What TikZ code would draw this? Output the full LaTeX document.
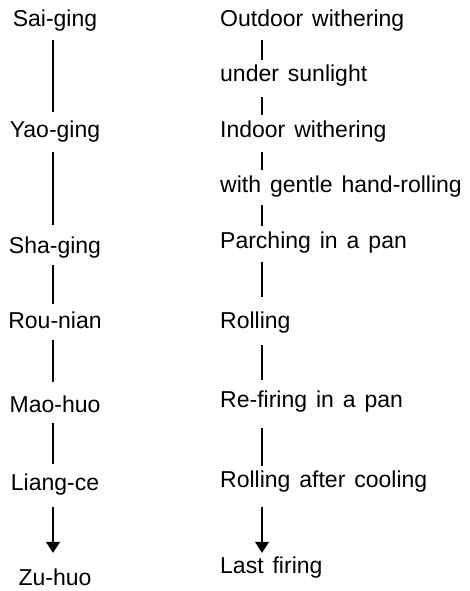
\documentclass[tikz,border=0pt]{standalone}
\usepackage{fontspec}
\setmainfont[WordSpace=1.4]{Liberation Sans}
\usetikzlibrary{arrows.meta}
\begin{document}
\begin{tikzpicture}[x=1pt,y=-1pt,
  lbl/.style={inner sep=0pt,text height=16pt,text depth=5pt,
    font=\fontsize{23}{28}\selectfont},
  lcol/.style={lbl,anchor=base},
  rcol/.style={lbl,anchor=base west},
  link/.style={line width=1.2pt},
  flow/.style={link,-{Triangle[width=14pt,length=11pt]}}]
\useasboundingbox (0,0) rectangle (470,591);
% x positions of the two columns of connectors
\coordinate (lx) at (53,0);
\coordinate (rx) at (262,0);

% Chinese step names
\node[lcol] (s1) at (55,27)  {Sai-ging};
\node[lcol] (s2) at (55,137) {Yao-ging};
\node[lcol] (s3) at (55,253) {Sha-ging};
\node[lcol] (s4) at (55,328) {Rou-nian};
\node[lcol] (s5) at (55,412) {Mao-huo};
\node[lcol] (s6) at (55,490) {Liang-ce};
\node[lcol] (s7) at (55,585) {Zu-huo};

% English descriptions
\node[rcol] (e1) at (220,27)  {Outdoor withering};
\node[rcol] (e2) at (220,82)  {under sunlight};
\node[rcol] (e3) at (220,137) {Indoor withering};
\node[rcol] (e4) at (220,192) {with gentle hand-rolling};
\node[rcol] (e5) at (220,248) {Parching in a pan};
\node[rcol] (e6) at (220,328) {Rolling};
\node[rcol] (e7) at (220,407) {Re-firing in a pan};
\node[rcol] (e8) at (220,487) {Rolling after cooling};
\node[rcol] (e9) at (220,573) {Last firing};

% left column connectors
\draw[link,shorten <=8pt,shorten >=9pt]   (s1.south -| lx) -- (s2.north -| lx);
\draw[link,shorten <=10pt,shorten >=12pt] (s2.south -| lx) -- (s3.north -| lx);
\draw[link,shorten <=7pt,shorten >=8pt]   (s3.south -| lx) -- (s4.north -| lx);
\draw[link,shorten <=7pt,shorten >=14pt]  (s4.south -| lx) -- (s5.north -| lx);
\draw[link,shorten <=6pt,shorten >=10pt]  (s5.south -| lx) -- (s6.north -| lx);
\draw[flow,shorten <=12pt,shorten >=16pt] (s6.south -| lx) -- (s7.north -| lx);

% right column connectors
\draw[link,shorten <=8pt,shorten >=6pt]   (e1.south -| rx) -- (e2.north -| rx);
\draw[link,shorten <=10pt,shorten >=6pt]  (e2.south -| rx) -- (e3.north -| rx);
\draw[link,shorten <=10pt,shorten >=6pt]  (e3.south -| rx) -- (e4.north -| rx);
\draw[link,shorten <=8pt,shorten >=6pt]   (e4.south -| rx) -- (e5.north -| rx);
\draw[link,shorten <=9pt,shorten >=15pt]  (e5.south -| rx) -- (e6.north -| rx);
\draw[link,shorten <=12pt,shorten >=11pt] (e6.south -| rx) -- (e7.north -| rx);
\draw[link,shorten <=16pt,shorten >=5pt]  (e7.south -| rx) -- (e8.north -| rx);
\draw[flow,shorten <=15pt,shorten >=4pt]  (e8.south -| rx) -- (e9.north -| rx);
\end{tikzpicture}
\end{document}
